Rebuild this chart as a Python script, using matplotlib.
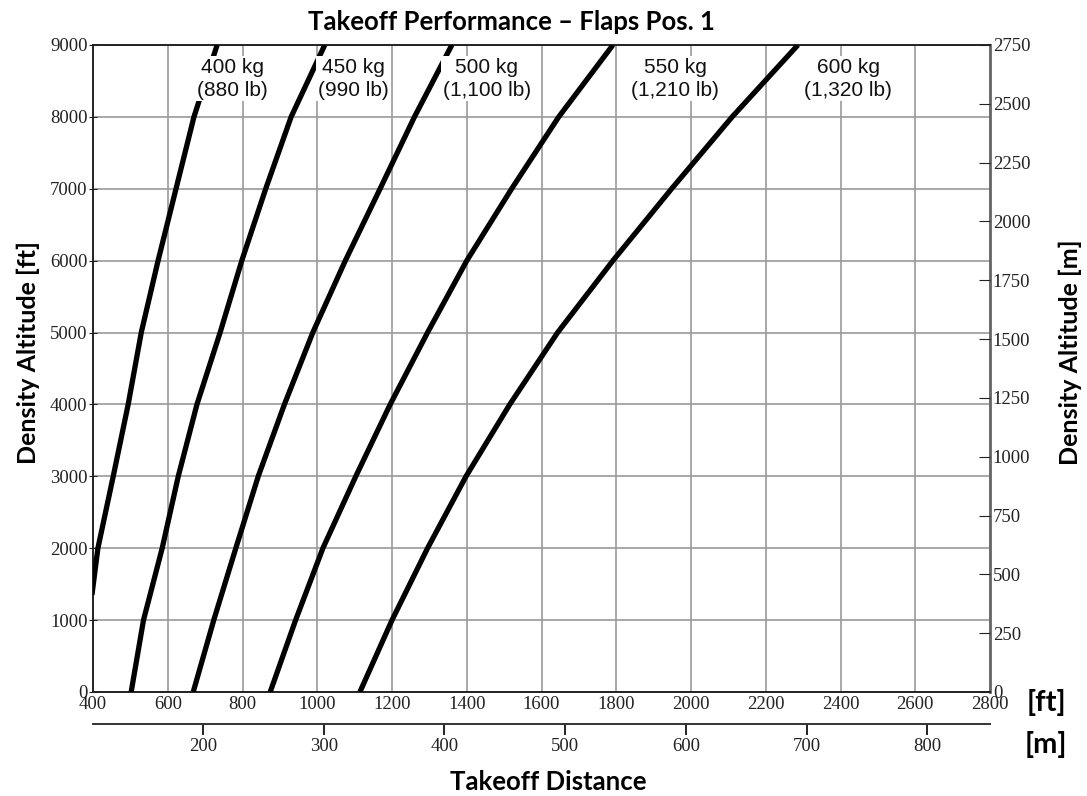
import matplotlib
matplotlib.use("Agg")
import matplotlib.pyplot as plt
from matplotlib.font_manager import FontProperties

# density altitude [ft] vs takeoff distance [ft], one list per mass
alt_ft = [0, 1000, 2000, 3000, 4000, 5000, 6000, 7000, 8000, 9000]
alt_400 = [1350, 2000, 3000, 4000, 5000, 6000, 7000, 8000, 9000]
dist_400 = [397, 413, 454, 494, 529, 574, 622, 670, 732]
dist_450 = [502, 535, 585, 628, 678, 740, 798, 862, 930, 1020]
dist_500 = [668, 723, 782, 842, 912, 988, 1075, 1168, 1260, 1360]
dist_550 = [874, 942, 1015, 1103, 1195, 1295, 1400, 1520, 1646, 1791]
dist_600 = [1114, 1200, 1295, 1398, 1515, 1643, 1791, 1948, 2110, 2286]

mass_labels = ["400 kg\n(880 lb)", "450 kg\n(990 lb)", "500 kg\n(1,100 lb)",
               "550 kg\n(1,210 lb)", "600 kg\n(1,320 lb)"]
label_x = [772, 1096, 1454, 1957, 2420]
label_y = 8530

ft_ticks = list(range(400, 2801, 200))
alt_ticks = list(range(0, 9001, 1000))
m_alt_ticks = list(range(0, 2751, 250))
m_dist_ticks = [200, 300, 400, 500, 600, 700, 800]

tick_fp = FontProperties(family="Liberation Serif", size=13.5)
head_font = "Lato"


def style_labels(labels):
    for lab in labels:
        lab.set_fontproperties(tick_fp)


fig = plt.figure(figsize=(10.87, 7.96), dpi=100)
ax = fig.add_axes([0.0856, 0.1307, 0.8252, 0.8128])

curves = [(dist_400, alt_400), (dist_450, alt_ft), (dist_500, alt_ft),
          (dist_550, alt_ft), (dist_600, alt_ft)]
for d, a in curves:
    ax.plot(d, a, color="black", lw=3.8, solid_joinstyle="round",
            solid_capstyle="butt", zorder=3)

for txt, x in zip(mass_labels, label_x):
    ax.text(x, label_y, txt, ha="center", va="center", family="Liberation Sans",
            size=15, linespacing=1.3, color="#111111", zorder=4,
            bbox=dict(fc="white", ec="none", pad=1.0))

ax.set_xlim(400, 2800)
ax.set_ylim(0, 9000)
ax.set_xticks(ft_ticks)
ax.set_yticks(alt_ticks)
ax.grid(True, color="#9a9a9a", lw=1.2, zorder=1)
ax.tick_params(axis="x", length=0, pad=3, colors="#222222")
ax.tick_params(axis="y", direction="inout", length=6, pad=1, colors="#222222")
style_labels(ax.get_xticklabels() + ax.get_yticklabels())
for s in ["left", "bottom", "top"]:
    ax.spines[s].set_color("#222222")
    ax.spines[s].set_linewidth(1.4)
ax.spines["right"].set_color("#666666")
ax.spines["right"].set_linewidth(2)

# right-hand altitude scale in metres
axr = ax.twinx()
axr.set_ylim(0, 2750)
axr.set_yticks(m_alt_ticks)
axr.tick_params(axis="y", direction="in", length=8, pad=2, colors="#222222")
style_labels(axr.get_yticklabels())
for s in axr.spines.values():
    s.set_visible(False)

# metre scale for the distance, drawn under the feet scale
axm = ax.twiny()
axm.set_xlim(109, 852)
axm.set_xticks(m_dist_ticks)
axm.xaxis.set_ticks_position("bottom")
axm.xaxis.set_label_position("bottom")
for s in ["top", "left", "right"]:
    axm.spines[s].set_visible(False)
axm.spines["bottom"].set_position(("outward", 23))
axm.spines["bottom"].set_color("#333333")
axm.spines["bottom"].set_linewidth(1.4)
axm.tick_params(axis="x", direction="out", length=8, width=1.4, pad=2,
                colors="#222222")
style_labels(axm.get_xticklabels())

fig.text(511 / 1087, 1 - 22 / 796, "Takeoff Performance \u2013 Flaps Pos. 1",
         ha="center", va="center", family=head_font, weight="bold", size=18.5)
fig.text(548 / 1087, 1 - 782 / 796, "Takeoff Distance", ha="center", va="center",
         family=head_font, weight="bold", size=18.5)
fig.text(28 / 1087, 1 - 352 / 796, "Density Altitude [ft]", ha="center",
         va="center", rotation=90, family=head_font, weight="bold", size=18)
fig.text(1070 / 1087, 1 - 352 / 796, "Density Altitude [m]", ha="center",
         va="center", rotation=90, family=head_font, weight="bold", size=18)
fig.text(1046 / 1087, 1 - 703 / 796, "[ft]", ha="center", va="center",
         family=head_font, weight="bold", size=21)
fig.text(1046 / 1087, 1 - 745 / 796, "[m]", ha="center", va="center",
         family=head_font, weight="bold", size=21)

fig.savefig("out.png", dpi=100, facecolor="white")
